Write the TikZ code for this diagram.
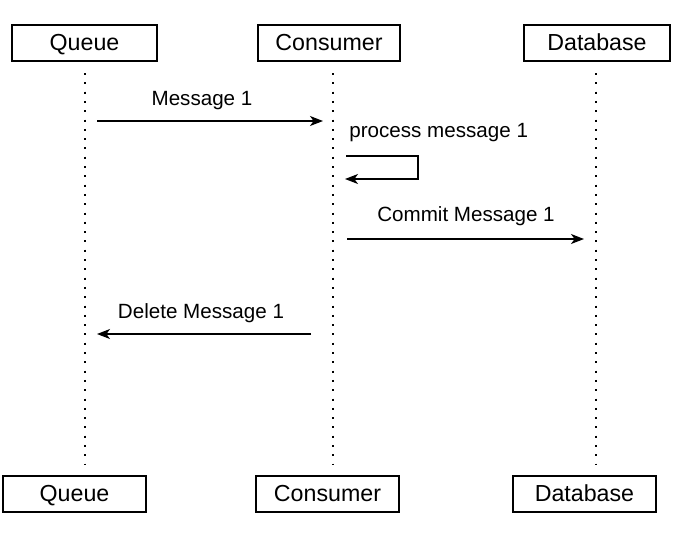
\documentclass[tikz,border=0pt]{standalone}
\usepackage{fontspec}
\setmainfont{Liberation Sans}
\usepackage{tikz}
\usetikzlibrary{arrows.meta, positioning}
\tikzset{
  actor/.style={draw, line width=0.65pt, minimum width=72.5pt, minimum height=18pt, inner sep=0pt, text height=0.72em, text depth=0pt, font=\fontsize{11.6}{13}\selectfont},
  lifeline/.style={line width=1pt, dash pattern=on 1pt off 3.65pt},
  msg/.style={-{Stealth[length=6.5pt,width=5pt,inset=1.8pt]}, line width=0.65pt},
  msglabel/.style={inner sep=0pt, font=\fontsize{10.3}{12}\selectfont}
}

\begin{document}
\begin{tikzpicture}[x=0.5pt, y=-0.5pt]

  \useasboundingbox (0,0) rectangle (680,543);

  % Actors (top)
  \node[actor, minimum width=72.5pt] (qtop) at (84.5,43) {Queue};
  \node[actor, minimum width=71pt] (ctop) at (329,43) {Consumer};
  \node[actor, minimum width=73pt] (dtop) at (597,43) {Database};

  % Actors (bottom)
  \node[actor, minimum width=71.5pt] (qbot) at (74.5,494) {Queue};
  \node[actor, minimum width=71.5pt] (cbot) at (327.5,494) {Consumer};
  \node[actor, minimum width=71.5pt] (dbot) at (584.5,494) {Database};

  % Lifelines
  \coordinate (qs) at (85,73);  \coordinate (qe) at (85,464);
  \coordinate (cs) at (333,73); \coordinate (ce) at (333,464);
  \coordinate (ds) at (596,73); \coordinate (de) at (596,464);
  \draw[lifeline] (qs) -- (qe);
  \draw[lifeline] (cs) -- (ce);
  \draw[lifeline] (ds) -- (de);

  % Message 1
  \coordinate (m1s) at (97,121);
  \coordinate (m1e) at (323,121);
  \draw[msg] (m1s) -- (m1e);
  \node[msglabel] (m1) at (202,101) {Message 1};

  % Self call
  \coordinate (p1s) at (346,156);
  \coordinate (p1r) at (418,156);
  \coordinate (p1e) at (345,179);
  \draw[msg] (p1s) -- (p1r) |- (p1e);
  \node[msglabel, anchor=west] (p1) at (349,133) {process message 1};

  % Commit
  \coordinate (m2s) at (347,239);
  \coordinate (m2e) at (584,239);
  \draw[msg] (m2s) -- (m2e);
  \node[msglabel] (m2) at (466,216) {Commit Message 1};

  % Delete
  \coordinate (m3s) at (311,334);
  \coordinate (m3e) at (97,334);
  \draw[msg] (m3s) -- (m3e);
  \node[msglabel] (m3) at (201,313) {Delete Message 1};

\end{tikzpicture}
\end{document}
